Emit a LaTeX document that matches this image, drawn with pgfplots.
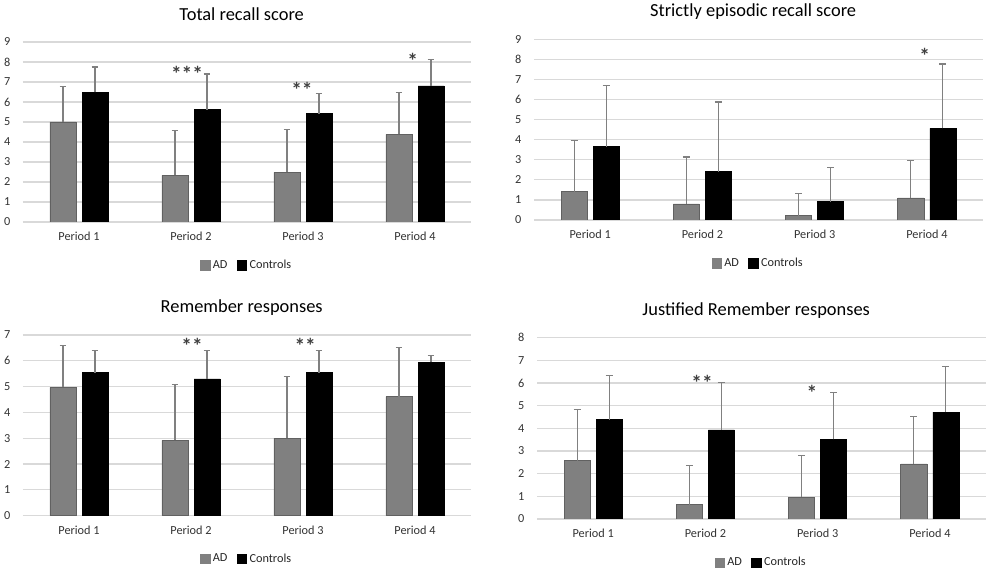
\documentclass[border=0pt]{standalone}
\usepackage{pgfplots}
\pgfplotsset{compat=1.18}
\usepackage{fontspec}
\setmainfont{Carlito}
\tikzset{stars/.style={font=\fontsize{16}{17}\selectfont\bfseries, text=black!75, anchor=center, yshift=-3pt, inner sep=0pt}}
\pgfplotsset{
 panel/.style={
  scale only axis, ybar, bar width=0.232, ymin=0, xmin=-0.5, xmax=3.5,
  xtick={0,1,2,3}, xticklabels={Period 1,Period 2,Period 3,Period 4},
  ytick distance=1, ymajorgrids, major grid style={line width=0.9pt, color=black!15},
  axis line style={draw=none}, major tick length=0pt,
  tick label style={font=\fontsize{9.2}{10}\selectfont, text=black!80},
  xticklabel style={yshift=-4pt}, yticklabel style={xshift=-6pt},
  /pgf/number format/assume math mode=true,
  title style={at={(0.5,1)}, anchor=center, yshift=14.6pt, xshift=-4pt, font=\fontsize{13.8}{15}\selectfont},
  legend style={at={(0.5,-0.24)}, anchor=center, draw=none, fill=none, legend columns=2,
    font=\fontsize{9.2}{10}\selectfont, text=black!85,
    /tikz/every even column/.append style={column sep=5pt}},
  error bars/y dir=plus, error bars/y explicit,
  error bars/error bar style={color=gray, line width=0.8pt},
  error bars/error mark options={rotate=90, mark size=2.6pt, color=gray, line width=0.8pt},
 },
 adstyle/.style={fill=gray, draw=black!62, line width=0.5pt, bar shift=-0.143,
   legend image code/.code={\fill[gray] (0pt,-3.5pt) rectangle (7pt,3.5pt);}},
 constyle/.style={fill=black, draw=black, line width=0.5pt, bar shift=0.143,
   legend image code/.code={\fill[black] (0pt,-3.5pt) rectangle (7pt,3.5pt);}},
}
\begin{document}
\begin{tikzpicture}
\useasboundingbox (0,0) rectangle (744pt,428.25pt);
% Panel 1
\begin{axis}[panel, at={(17.25pt,261.75pt)}, anchor=south west, width=336pt, height=135pt,
  ymax=9, title={Total recall score}]
\addplot[adstyle] coordinates {(0,5.00) +- (0,1.78) (1,2.33) +- (0,2.25) (2,2.48) +- (0,2.15) (3,4.38) +- (0,2.10)};
\addplot[constyle] coordinates {(0,6.48) +- (0,1.27) (1,5.62) +- (0,1.78) (2,5.42) +- (0,1.00) (3,6.80) +- (0,1.32)};
\legend{AD,Controls}
\node[stars] at (axis cs:0.964,7.62) {***};
\node[stars] at (axis cs:1.99,6.82) {**};
\node[stars] at (axis cs:2.98,8.28) {*};
\end{axis}
% Panel 2
\begin{axis}[panel, at={(400.5pt,263.25pt)}, anchor=south west, width=336.75pt, height=135.5pt,
  ymax=9, title={Strictly episodic recall score}]
\addplot[adstyle] coordinates {(0,1.41) +- (0,2.53) (1,0.80) +- (0,2.34) (2,0.22) +- (0,1.09) (3,1.10) +- (0,1.87)};
\addplot[constyle] coordinates {(0,3.65) +- (0,3.04) (1,2.41) +- (0,3.47) (2,0.91) +- (0,1.71) (3,4.57) +- (0,3.20)};
\legend{AD,Controls}
\node[stars] at (axis cs:2.98,8.36) {*};
\end{axis}
% Panel 3
\begin{axis}[panel, at={(17.25pt,41.5pt)}, anchor=south west, width=336pt, height=135.5pt,
  ymax=7, title={Remember responses}]
\addplot[adstyle] coordinates {(0,4.97) +- (0,1.63) (1,2.92) +- (0,2.18) (2,3.00) +- (0,2.39) (3,4.61) +- (0,1.89)};
\addplot[constyle] coordinates {(0,5.54) +- (0,0.87) (1,5.30) +- (0,1.11) (2,5.54) +- (0,0.87) (3,5.94) +- (0,0.26)};
\legend{AD,Controls}
\node[stars] at (axis cs:1.01,6.74) {**};
\node[stars] at (axis cs:2.02,6.74) {**};
\end{axis}
% Panel 4
\begin{axis}[panel, at={(402.75pt,39pt)}, anchor=south west, width=336.75pt, height=136pt,
  ymax=8, title={Justified Remember responses}]
\addplot[adstyle] coordinates {(0,2.57) +- (0,2.25) (1,0.63) +- (0,1.75) (2,0.96) +- (0,1.83) (3,2.43) +- (0,2.11)};
\addplot[constyle] coordinates {(0,4.38) +- (0,1.97) (1,3.93) +- (0,2.11) (2,3.51) +- (0,2.08) (3,4.71) +- (0,2.01)};
\legend{AD,Controls}
\node[stars] at (axis cs:0.97,6.20) {**};
\node[stars] at (axis cs:1.95,5.72) {*};
\end{axis}
\end{tikzpicture}
\end{document}
